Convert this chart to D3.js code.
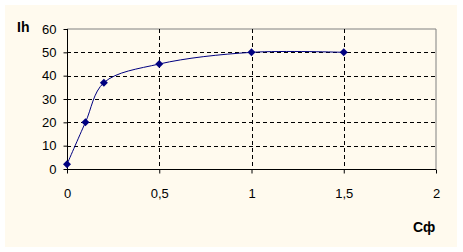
<!DOCTYPE html>
<html>
<head>
<meta charset="utf-8">
<script src="https://cdn.jsdelivr.net/npm/d3@7"></script>
<style>
  body { margin: 0; background: #fff; }
  text { font-family: Arial, "Liberation Sans", sans-serif; }
</style>
</head>
<body>
<div id="chart"></div>
<script>
// data
const xValues = [0, 0.1, 0.2, 0.5, 1, 1.5];
const yValues = [2, 20, 37, 45, 50, 50];
const xTicks = [0, 0.5, 1, 1.5, 2];
const yTicks = [0, 10, 20, 30, 40, 50, 60];

const width = 463, height = 252;
const margin = {top: 29, right: 27, bottom: 83, left: 67};

const svg = d3.select("#chart").append("svg")
    .attr("width", width)
    .attr("height", height);

// cream chart area
svg.append("rect")
    .attr("x", 5).attr("y", 5)
    .attr("width", 452).attr("height", 242)
    .attr("fill", "#fffaee");

const x = d3.scaleLinear().domain([0, 2]).range([margin.left, width - margin.right]);
const y = d3.scaleLinear().domain([0, 60]).range([height - margin.bottom, margin.top]);

const fmt = d => String(d).replace(".", ",");

// plot border (top/right gray)
svg.append("path")
    .attr("d", `M${x(0)},${y(60)}H${x(2)}V${y(0)}`)
    .attr("fill", "none")
    .attr("stroke", "#808080");

// grid
svg.append("g").selectAll("line")
    .data(yTicks.filter(d => d > 0 && d < 60))
    .join("line")
    .attr("x1", x(0)).attr("x2", x(2))
    .attr("y1", d => Math.round(y(d)) + 0.5).attr("y2", d => Math.round(y(d)) + 0.5)
    .attr("stroke", "#000")
    .attr("stroke-dasharray", "4,3");

svg.append("g").selectAll("line")
    .data(xTicks.filter(d => d > 0 && d < 2))
    .join("line")
    .attr("x1", d => Math.round(x(d)) + 0.5).attr("x2", d => Math.round(x(d)) + 0.5)
    .attr("y1", y(60)).attr("y2", y(0))
    .attr("stroke", "#000")
    .attr("stroke-dasharray", "4,3");

// axes
const xAxis = svg.append("g")
    .attr("transform", `translate(0,${Math.round(y(0)) + 0.5})`)
    .call(d3.axisBottom(x).tickValues(xTicks).tickFormat(fmt).tickSize(4).tickPadding(15));
const yAxis = svg.append("g")
    .attr("transform", `translate(${Math.round(x(0)) + 0.5},0)`)
    .call(d3.axisLeft(y).tickValues(yTicks).tickSize(4).tickPadding(7));

[xAxis, yAxis].forEach(g => {
    g.selectAll("path, line").attr("stroke", "#000");
    g.selectAll("text").attr("font-size", 13).attr("fill", "#000")
        .style("font-family", "Arial, 'Liberation Sans', sans-serif");
});
xAxis.select(".domain").attr("d", `M${x(0)},0H${x(2)}`);
yAxis.select(".domain").attr("d", `M0,${y(0)}V${y(60)}`);

// axis titles
svg.append("text")
    .attr("x", 17).attr("y", 32)
    .attr("font-size", 14).attr("font-weight", "bold")
    .text("Ih");
svg.append("text")
    .attr("x", 413).attr("y", 232)
    .attr("font-size", 14).attr("font-weight", "bold")
    .text("Cф");

// smooth line
const pts = xValues.map((d, i) => [d, yValues[i]]);
const line = d3.line()
    .x(d => x(d[0]))
    .y(d => y(d[1]))
    .curve(d3.curveCatmullRom.alpha(0.5));

svg.append("path")
    .datum(pts)
    .attr("d", line)
    .attr("fill", "none")
    .attr("stroke", "#000080")
    .attr("stroke-width", 1);

// diamond markers
svg.append("g").selectAll("path")
    .data(pts)
    .join("path")
    .attr("transform", d => `translate(${x(d[0])},${y(d[1])})`)
    .attr("d", "M0,-4L4,0L0,4L-4,0Z")
    .attr("fill", "#000080");
</script>
</body>
</html>
